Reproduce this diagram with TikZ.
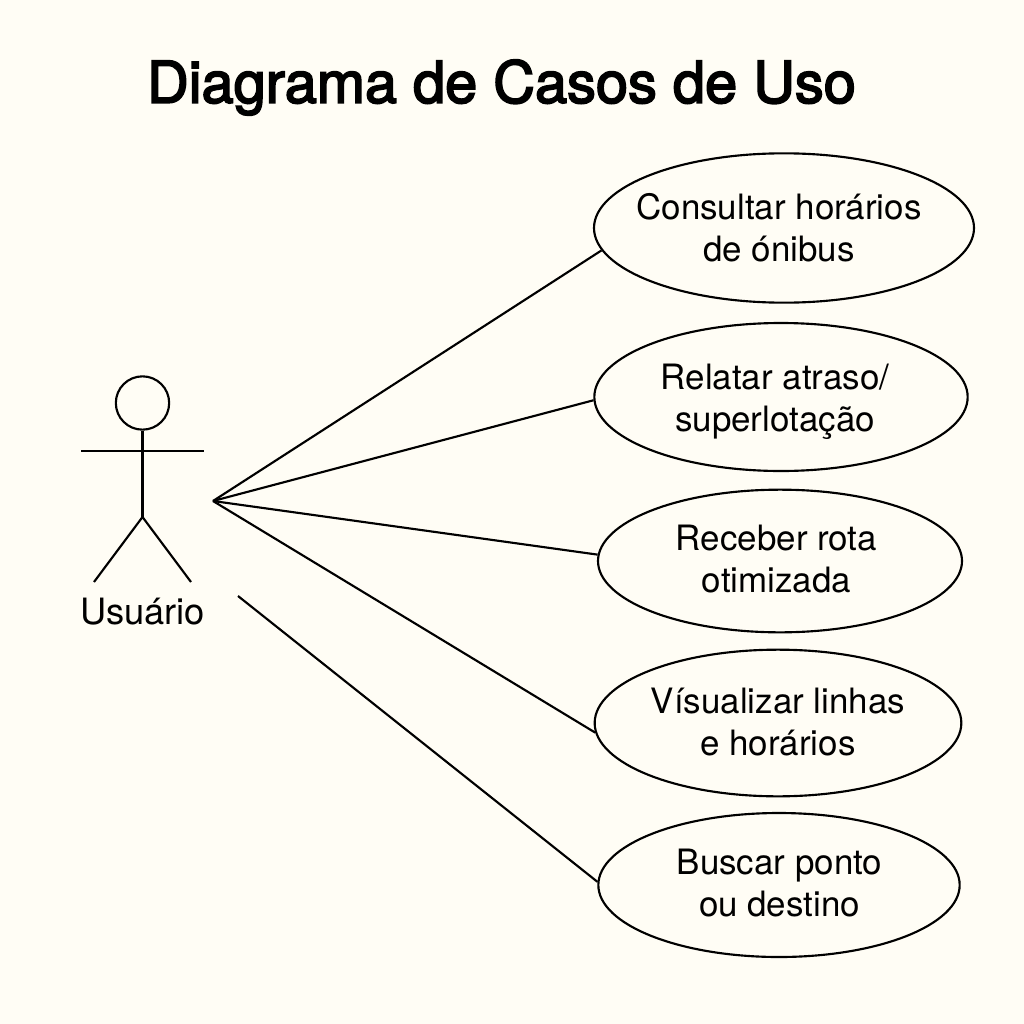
\documentclass[tikz,border=0pt]{standalone}
\usepackage{fontspec}
\setmainfont{TeX Gyre Heros}
\newfontfamily\titlefont[FakeBold=3]{TeX Gyre Heros}
\usetikzlibrary{shapes.geometric}
\definecolor{bgc}{HTML}{FFFDF5}
\tikzset{
  px/.style={x=0.75pt,y=-0.75pt},
  uc/.style={draw=black,line width=1.6pt,ellipse,inner sep=0pt},
  uctext/.style={align=center,inner sep=0pt,font=\fontsize{26.2}{31.5}\selectfont,text=black},
  ln/.style={draw=black,line width=1.6pt}
}
\begin{document}
\begin{tikzpicture}[px]
\useasboundingbox (0,0) rectangle (1024,1024);
\fill[bgc] (0,0) rectangle (1024,1024);
\node[font=\titlefont\fontsize{43.3}{48}\selectfont] (title) at (501.5,87.5) {Diagrama de Casos de Uso};
\node[uc,minimum width=285pt,minimum height=112pt] (a) at (784,228) {};
\node[uc,minimum width=280pt,minimum height=111pt] (b) at (781,397) {};
\node[uc,minimum width=273pt,minimum height=107pt] (c) at (780,561) {};
\node[uc,minimum width=275pt,minimum height=110pt] (d) at (778,723) {};
\node[uc,minimum width=271pt,minimum height=108pt] (e) at (779,885) {};
\node[uctext] (ta) at (779,227.5) {Consultar horários\\de ónibus};
\node[uctext] (tb) at (775,402) {Relatar atraso/\\superlotação};
\node[uctext] (tc) at (776.5,559) {Receber rota\\otimizada};
\node[uctext] (td) at (778,722) {Vísualizar linhas\\e horários};
\node[uctext] (te) at (779.5,883.5) {Buscar ponto\\ou destino};
\node[circle,draw=black,line width=1.6pt,minimum size=40pt,inner sep=0pt] (head) at (142.5,403) {};
\coordinate (hip) at (142.5,517);
\coordinate (armL) at (81,451);
\coordinate (armR) at (204,451);
\coordinate (legL) at (94,582);
\coordinate (legR) at (191,582);
\draw[ln] (head.south) -- (hip);
\draw[ln] (armL) -- (armR);
\draw[ln] (legL) -- (hip) -- (legR);
\node[uctext,font=\fontsize{27.2}{32}\selectfont] (actor) at (142.5,612) {Usuário};
\coordinate (hub) at (213,501);
\coordinate (low) at (238,596);
\draw[ln] (hub) -- (a.187.5);
\draw[ln] (hub) -- (b.181);
\draw[ln] (hub) -- (c.178.6);
\draw[ln] (hub) -- (d.183.4);
\draw[ln] (low) -- (e.179.4);
\end{tikzpicture}
\end{document}
